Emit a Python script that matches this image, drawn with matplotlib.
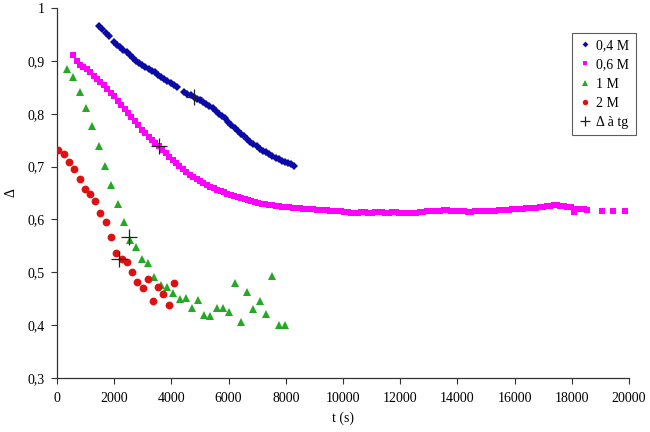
import matplotlib
matplotlib.use("Agg")
import matplotlib.pyplot as plt
from matplotlib.ticker import FuncFormatter

plt.rcParams['font.family'] = ['Liberation Serif', 'DejaVu Serif']

# ---- data ----
t_04 = [1480, 1590, 1700, 1810, 1980, 2090, 2200, 2320, 2430, 2540, 2650, 2760, 2870,
        2980, 3090, 3200, 3310, 3420, 3530, 3640, 3750, 3860, 3970, 4080, 4190, 4450,
        4560, 4670, 4780, 4890, 5000, 5110, 5220, 5330, 5440, 5550, 5660, 5770, 5880,
        5990, 6100, 6210, 6320, 6430, 6540, 6650, 6760, 6870, 6980, 7090, 7200, 7310,
        7420, 7530, 7640, 7750, 7860, 7970, 8080, 8190, 8300]
d_04 = [0.966, 0.960, 0.953, 0.947, 0.936, 0.930, 0.926, 0.921, 0.916, 0.911, 0.905, 0.900,
        0.896, 0.892, 0.889, 0.885, 0.881, 0.878, 0.874, 0.870, 0.866, 0.862, 0.858, 0.854,
        0.850, 0.842, 0.838, 0.835, 0.832, 0.828, 0.825, 0.822, 0.819, 0.815, 0.810, 0.805,
        0.800, 0.796, 0.791, 0.785, 0.779, 0.773, 0.767, 0.762, 0.757, 0.752, 0.747, 0.742,
        0.738, 0.734, 0.730, 0.727, 0.723, 0.720, 0.717, 0.714, 0.711, 0.708, 0.706, 0.704,
        0.702]

t_06 = [570, 700, 820, 920, 1040, 1160, 1280, 1400, 1520, 1640, 1760, 1880, 2000, 2120,
        2240, 2360, 2480, 2600, 2720, 2840, 2960, 3080, 3200, 3320, 3440, 3560, 3680, 3800,
        3920, 4040, 4160, 4280, 4400, 4520, 4640, 4760, 4880, 5000, 5120, 5240, 5360, 5480,
        5600, 5720, 5840, 5960, 6080, 6200, 6320, 6440, 6560, 6680, 6800, 6920, 7040, 7160,
        7280, 7400, 7520, 7640, 7760, 7880, 8000, 8120, 8240, 8360, 8480, 8600, 8720, 8840,
        8960, 9080, 9200, 9320, 9440, 9560, 9680, 9800, 9920, 10040, 10160, 10280, 10400,
        10520, 10640, 10760, 10880, 11000, 11120, 11240, 11360, 11480, 11600, 11720, 11840,
        11960, 12080, 12200, 12320, 12440, 12560, 12680, 12800, 12920, 13040, 13160, 13280,
        13400, 13520, 13640, 13760, 13880, 14000, 14120, 14240, 14360, 14480, 14600, 14720,
        14840, 14960, 15080, 15200, 15320, 15440, 15560, 15680, 15800, 15920, 16040, 16160,
        16280, 16400, 16520, 16640, 16760, 16880, 17000, 17120, 17240, 17360, 17480, 17600,
        17720, 17840, 17960, 18060, 18180, 18300, 18420, 18540, 19050, 19450, 19860]
d_06 = [0.911, 0.900, 0.893, 0.889, 0.884, 0.878, 0.871, 0.866, 0.860, 0.854, 0.847, 0.840,
        0.833, 0.824, 0.816, 0.808, 0.801, 0.794, 0.786, 0.778, 0.770, 0.763, 0.756, 0.750,
        0.744, 0.738, 0.732, 0.725, 0.719, 0.713, 0.707, 0.701, 0.695, 0.689, 0.684, 0.680,
        0.676, 0.672, 0.668, 0.665, 0.662, 0.659, 0.656, 0.654, 0.652, 0.649, 0.647, 0.644,
        0.642, 0.640, 0.638, 0.636, 0.634, 0.633, 0.631, 0.630, 0.629, 0.628, 0.627, 0.626,
        0.625, 0.624, 0.623, 0.623, 0.622, 0.622, 0.621, 0.620, 0.620, 0.619, 0.619, 0.618,
        0.618, 0.617, 0.617, 0.616, 0.616, 0.615, 0.615, 0.614, 0.614, 0.613, 0.613, 0.613,
        0.614, 0.614, 0.613, 0.613, 0.614, 0.614, 0.614, 0.613, 0.613, 0.614, 0.614, 0.613,
        0.613, 0.613, 0.612, 0.613, 0.613, 0.614, 0.614, 0.615, 0.615, 0.616, 0.616, 0.616,
        0.617, 0.617, 0.616, 0.616, 0.615, 0.615, 0.615, 0.614, 0.614, 0.615, 0.615, 0.615,
        0.615, 0.616, 0.616, 0.616, 0.617, 0.617, 0.618, 0.618, 0.619, 0.619, 0.620, 0.620,
        0.621, 0.621, 0.622, 0.622, 0.623, 0.624, 0.625, 0.626, 0.627, 0.627, 0.626, 0.625,
        0.624, 0.623, 0.614, 0.620, 0.619, 0.619, 0.618, 0.616, 0.616, 0.616]

t_1 = [360, 570, 805, 1000, 1225, 1470, 1690, 1900, 2120, 2330, 2540, 2760, 2970, 3180,
       3400, 3625, 3835, 4045, 4290, 4510, 4720, 4930, 5150, 5360, 5585, 5795, 6005, 6225,
       6435, 6645, 6865, 7100, 7320, 7530, 7750, 7960]
d_1 = [0.884, 0.869, 0.842, 0.810, 0.776, 0.738, 0.701, 0.666, 0.630, 0.596, 0.561, 0.547,
       0.525, 0.518, 0.492, 0.475, 0.472, 0.460, 0.449, 0.452, 0.433, 0.447, 0.420, 0.418,
       0.432, 0.432, 0.425, 0.480, 0.405, 0.463, 0.430, 0.446, 0.422, 0.493, 0.400, 0.400]

t_2 = [45, 245, 420, 605, 790, 980, 1155, 1340, 1515, 1700, 1890, 2075, 2260, 2435, 2620,
       2810, 3000, 3170, 3355, 3545, 3720, 3905, 4090]
d_2 = [0.731, 0.723, 0.708, 0.695, 0.676, 0.657, 0.648, 0.634, 0.613, 0.596, 0.567, 0.536,
       0.525, 0.519, 0.501, 0.481, 0.470, 0.488, 0.446, 0.472, 0.458, 0.438, 0.480]

t_tg = [4790, 3565, 2530, 2170]
d_tg = [0.832, 0.738, 0.567, 0.526]

x_ticks = [0, 2000, 4000, 6000, 8000, 10000, 12000, 14000, 16000, 18000, 20000]
y_ticks = [0.3, 0.4, 0.5, 0.6, 0.7, 0.8, 0.9, 1.0]

# ---- figure ----
fig = plt.figure(figsize=(6.5, 4.32), dpi=100)
ax = fig.add_axes([0.0877, 0.125, 0.88, 0.8565])

ax.plot(t_04, d_04, linestyle='none', marker='D', markersize=4.2, color='#0a0aa8',
        markeredgewidth=0, label='0,4 M', zorder=3)
ax.plot(t_06, d_06, linestyle='none', marker='s', markersize=5.0, color='#ff00ff',
        markeredgewidth=0, label='0,6 M', zorder=3)
ax.plot(t_1, d_1, linestyle='none', marker='^', markersize=5.8, color='#22aa22',
        markeredgewidth=0, label='1 M', zorder=3)
ax.plot(t_2, d_2, linestyle='none', marker='o', markersize=5.6, color='#dd1111',
        markeredgewidth=0, label='2 M', zorder=3)
ax.plot(t_tg, d_tg, linestyle='none', marker='+', markersize=11, color='#222222',
        markeredgewidth=0.9, label='\u0394 \u00e0 tg', zorder=4)

ax.set_xlim(0, 20000)
ax.set_ylim(0.3, 1.0)
ax.set_xticks(x_ticks)
ax.set_yticks(y_ticks)
fmt = FuncFormatter(lambda v, p: ('%g' % round(v, 2)).replace('.', ','))
ax.yaxis.set_major_formatter(fmt)
ax.xaxis.set_major_formatter(FuncFormatter(lambda v, p: '%d' % v))
ax.tick_params(direction='out', length=4, width=0.8, labelsize=10, color='#333333')
ax.tick_params(axis='x', pad=6)
ax.tick_params(axis='y', pad=5)

for s in ['top', 'right']:
    ax.spines[s].set_visible(False)
for s in ['left', 'bottom']:
    ax.spines[s].set_linewidth(0.9)
    ax.spines[s].set_color('#333333')

ax.set_xlabel('t (s)', fontsize=10, labelpad=5)
ax.set_ylabel('\u0394', fontsize=10, labelpad=7)

leg = ax.legend(loc='upper right', bbox_to_anchor=(0.978, 0.924),
                bbox_transform=fig.transFigure, fontsize=10, frameon=True,
                fancybox=False, edgecolor='#333333', borderpad=0.45,
                handlelength=0.9, handletextpad=0.4, labelspacing=0.45,
                borderaxespad=0, markerscale=0.7)
leg.get_frame().set_linewidth(0.8)

fig.savefig('out.png', dpi=100)
